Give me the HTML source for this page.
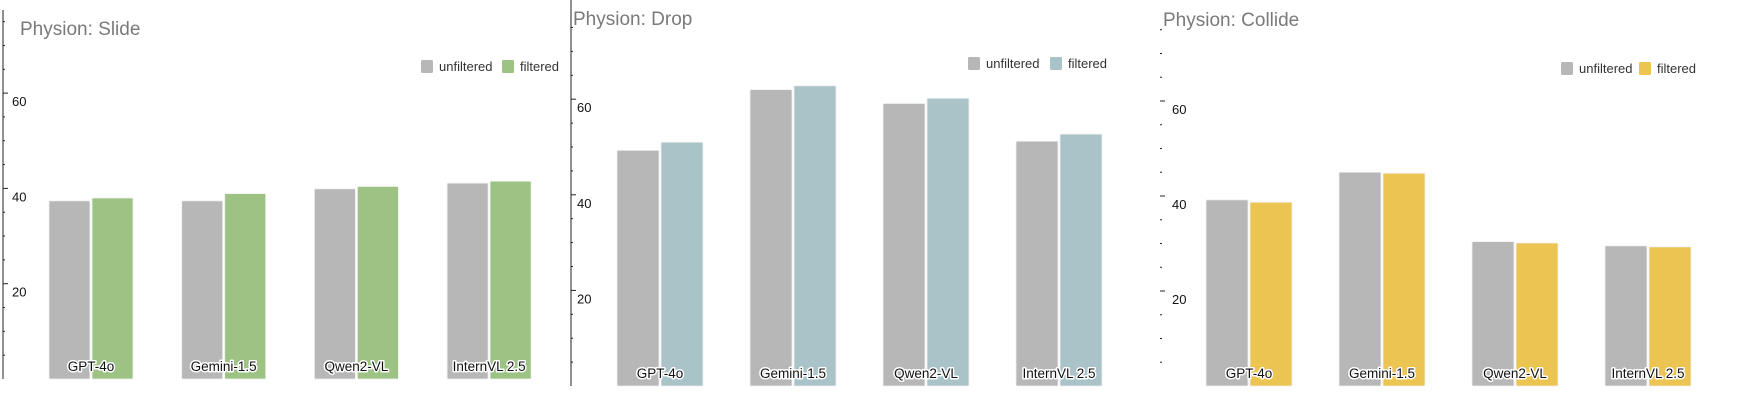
<!DOCTYPE html>
<html><head><meta charset="utf-8"><style>
html,body{margin:0;padding:0;background:#fff;}
svg{display:block;font-family:"Liberation Sans",Arial,sans-serif;}
.cat{font-size:13.5px;fill:#111;stroke:#fff;stroke-width:3px;paint-order:stroke;stroke-linejoin:round;}
</style></head><body>
<svg id="chart" width="1738" height="416" viewBox="0 0 1738 416" xmlns="http://www.w3.org/2000/svg"></svg>
<script>
const categories = ["GPT-4o","Gemini-1.5","Qwen2-VL","InternVL 2.5"];
const tickLabels = ["20","40","60"];
const tickValues = [20,40,60];
const slideUnfiltered = [37.4,37.4,39.9,41.1];
const slideFiltered = [38.0,38.9,40.4,41.5];
const dropUnfiltered = [49.3,62.0,59.1,51.2];
const dropFiltered = [51.0,62.8,60.2,52.7];
const collideUnfiltered = [39.2,45.0,30.4,29.5];
const collideFiltered = [38.7,44.8,30.1,29.3];
const seriesNames = ["unfiltered","filtered"];

const panels = [
  {key:"slide",title:"Physion: Slide",titleX:20,titleY:35,axisX:3,axisTop:10,axisLine:true,zeroY:379,pxPerUnit:4.765,
   tickLabelX:12,firstBar:49,groupStep:132.7,barW:41,gap:2,legX:421,legY:60,legStep:81,color:"#9dc384",unf:slideUnfiltered,fil:slideFiltered},
  {key:"drop",title:"Physion: Drop",titleX:573,titleY:25,axisX:571,axisTop:0,axisLine:true,zeroY:386,pxPerUnit:4.78,
   tickLabelX:577,firstBar:617,groupStep:133,barW:42,gap:2,legX:968,legY:57,legStep:82,color:"#a9c3c8",unf:dropUnfiltered,fil:dropFiltered},
  {key:"collide",title:"Physion: Collide",titleX:1163,titleY:26,axisX:1160,axisTop:0,axisLine:false,zeroY:386,pxPerUnit:4.75,
   tickLabelX:1172,firstBar:1206,groupStep:133,barW:42,gap:2,legX:1561,legY:62,legStep:78,color:"#ebc451",unf:collideUnfiltered,fil:collideFiltered}
];
const svg = document.getElementById('chart');
const NS = "http://www.w3.org/2000/svg";
function mk(tag, attrs, parent){const e=document.createElementNS(NS,tag);for(const k in attrs)e.setAttribute(k,attrs[k]);parent.appendChild(e);return e;}

panels.forEach(p=>{
  const g = mk('g',{},svg);
  
  
  const y = v => p.zeroY - v*p.pxPerUnit;
  if(p.axisLine){
    const ax = mk('line',{x1:p.axisX,x2:p.axisX,y1:p.axisTop,y2:p.zeroY,stroke:"#222","stroke-width":1},g);
    
    
  }
  for(let v=5; v<=75; v+=5){
    const yy=y(v); if(yy<2) continue;
    const major = v%20===0;
    const t = mk('line',{x1:p.axisX,x2:p.axisX+(major?5:2),y1:yy,y2:yy,stroke:"#222","stroke-width":1},g);
    
    
  }
  tickValues.forEach((v,i)=>{
    const t = mk('text',{x:p.tickLabelX,y:y(v)+13,"font-size":13,fill:"#111"},g);
    t.textContent = tickLabels[i];
    
    
  });
  const ti = mk('text',{x:p.titleX,y:p.titleY,"font-size":19,fill:"#7a7a7a"},g);
  ti.textContent = p.title;
  
  
  const legColors=["#b7b7b7",p.color];
  const legOffsets=[0,p.legStep];
  seriesNames.forEach((n,i)=>{
    const r = mk('rect',{x:p.legX+legOffsets[i],y:p.legY,width:12,height:13,rx:1.5,fill:legColors[i]},g);
    
    
    const t = mk('text',{x:p.legX+legOffsets[i]+18,y:p.legY+11,"font-size":13,fill:"#333"},g);
    t.textContent=n;
    
    
  });
  categories.forEach((c,i)=>{
    const x0 = p.firstBar + i*p.groupStep;
    const vals=[p.unf[i],p.fil[i]];
    vals.forEach((v,j)=>{
      const bx = x0 + j*(p.barW+p.gap);
      const b = mk('rect',{x:bx,y:y(v),width:p.barW,height:p.zeroY-y(v),fill:legColors[j],stroke:"#f0f0f0","stroke-width":0.8,rx:1},g);
      
      
    });
    const t = mk('text',{x:x0+p.barW+p.gap/2,y:p.zeroY-8,"text-anchor":"middle",class:"cat"},g);
    t.textContent=c;
    
    
  });
});
</script>
</body></html>
